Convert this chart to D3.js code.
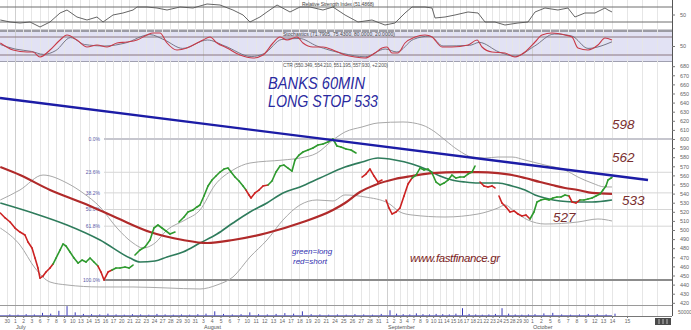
<!DOCTYPE html>
<html>
<head>
<meta charset="utf-8">
<script src="https://cdnjs.cloudflare.com/ajax/libs/d3/7.8.5/d3.min.js"></script>
<style>
body { margin: 0; background: #fff; }
svg { display: block; font-family: "Liberation Sans", Arial, sans-serif; }
.axis text { fill: #666; }
.axis path, .axis line { stroke: #777; }
</style>
</head>
<body>
<svg id="chart" width="691" height="330"></svg>
<script>
// trading days shown on the time axis
var juneDays = [30];
var julyDays = [1,2,3,6,7,8,9,10,13,14,15,16,17,20,21,22,23,24,27,28,29,30,31];
var augDays = [3,4,5,6,7,10,11,12,13,14,17,18,19,20,21,24,25,26,27,28,31];
var sepDays = [1,2,3,4,7,8,9,10,11,14,15,16,17,18,21,22,23,24,25,28,29,30];
var octDays = [1,2,5,6,7,8,9,12,13,14];
var futureDays = [15];
var monthNames = ["July", "August", "September", "October"];
var monthStart = [0, 23, 44, 66];

// price, 60 min bars: [day index, price, side]  (g = long, r = short), null = gap
var price = [
  [-1.8,518.7,'r'],[-1.2,513.2,'r'],[-0.6,508.8,'r'],[0,502.2,'r'],[0.61,497.8,'r'],[1.22,494.5,'r'],[1.59,486.8,'r'],
  [2.08,480.2,'r'],[2.45,469.2,'r'],[2.81,458.2,'r'],[3.06,447.2,'r'],[3.43,449.4,'r'],[3.79,453.8,'r'],[4.28,458.2,'r'],[4.65,462.6,'r'],
  [5.02,469.2,'g'],[5.51,478.0,'g'],[5.87,484.6,'g'],[6.24,482.4,'g'],[6.73,475.8,'g'],[7.22,469.2,'g'],[7.71,463.7,'g'],
  [8.20,467.0,'g'],[8.69,464.8,'g'],[9.18,469.2,'g'],[9.66,464.8,'g'],[10.15,460.4,'g'],
  [10.52,453.8,'r'],[10.89,445.1,'r'],[11.38,453.8,'r'],[11.87,456.0,'r'],
  [12.36,458.2,'g'],[12.85,458.2,'g'],[13.46,459.3,'g'],[13.95,458.2,'g'],[14.44,461.5,'g'],
  null,
  [14.68,472.5,'g'],[15.29,478.0,'g'],[15.90,481.3,'g'],[16.52,489.0,'g'],[17.00,502.2,'g'],[17.49,505.5,'g'],[17.98,502.2,'g'],
  [18.47,498.9,'g'],[18.96,495.6,'g'],[19.57,497.8,'g'],
  null,
  [20.06,508.8,'g'],[20.68,514.3,'g'],[21.16,519.8,'g'],[21.78,522.0,'g'],[22.27,525.3,'g'],[22.63,527.5,'g'],[23.11,537.4,'g'],
  [23.57,548.4,'g'],[24.03,554.9,'g'],[24.48,559.3,'g'],[24.94,563.7,'g'],[25.40,567.0,'g'],[25.85,568.1,'g'],[26.20,563.7,'g'],
  [26.65,558.2,'g'],[27.11,553.8,'g'],[27.57,548.4,'g'],[27.91,543.9,'g'],
  [28.25,538.5,'r'],[28.48,535.2,'r'],[28.93,540.7,'r'],[29.39,543.9,'r'],[29.85,548.4,'r'],[30.42,549.5,'r'],
  [30.87,553.8,'g'],[31.33,563.7,'g'],[31.79,570.3,'g'],[32.24,571.4,'g'],[32.70,568.1,'g'],[33.16,564.8,'g'],[33.50,576.9,'g'],
  [33.96,582.4,'g'],[34.41,585.7,'g'],[34.98,587.9,'g'],[35.55,590.1,'g'],[36.12,593.4,'g'],[36.69,594.5,'g'],[37.26,596.7,'g'],
  [37.83,600.0,'g'],[38.29,592.3,'g'],[38.75,591.2,'g'],[39.32,589.0,'g'],[39.89,587.9,'g'],[40.46,584.6,'g'],
  null,
  [41.15,558.2,'r'],[41.60,561.5,'r'],[42.06,567.0,'r'],[42.52,559.3,'r'],[42.97,552.7,'r'],[43.43,554.9,'r'],
  null,
  [43.89,533.0,'r'],[44.30,524.2,'r'],[44.76,517.6,'r'],[45.37,519.8,'r'],[45.97,524.2,'r'],[46.58,537.4,'r'],[47.19,550.5,'r'],[47.80,557.1,'r'],
  [48.40,560.4,'g'],[49.01,568.1,'g'],[49.62,565.9,'g'],[50.22,567.0,'g'],[50.83,562.6,'g'],[51.44,552.7,'g'],[52.04,549.5,'g'],
  [52.65,551.6,'g'],[53.26,554.9,'g'],[53.86,560.4,'g'],[54.47,557.1,'g'],[55.08,558.2,'g'],[55.68,558.2,'g'],[56.29,561.5,'g'],
  [56.90,563.7,'g'],[57.35,570.3,'g'],
  null,
  [58.11,552.7,'r'],[58.71,548.4,'r'],[59.32,547.3,'r'],[59.93,548.4,'r'],[60.38,546.2,'r'],
  null,
  [60.99,537.4,'r'],[61.44,529.7,'r'],[62.05,525.3,'r'],[62.66,519.8,'r'],[63.27,520.9,'r'],[63.87,517.6,'r'],[64.48,515.4,'r'],
  [65.09,516.5,'r'],[65.70,512.1,'r'],
  [66.22,519.8,'g'],[66.56,530.8,'g'],[67.01,533.0,'g'],[67.46,534.1,'g'],[67.91,533.0,'g'],[68.36,535.2,'g'],[68.81,536.3,'g'],
  [69.26,536.3,'g'],[69.71,538.5,'g'],[70.16,537.4,'g'],
  [70.50,530.8,'r'],[70.95,529.7,'r'],[71.40,533.0,'r'],
  [71.85,533.0,'g'],[72.30,534.1,'g'],[72.75,535.2,'g'],[73.20,537.4,'g'],[73.65,539.6,'g'],[73.99,544.0,'g'],[74.32,548.4,'g'],
  [74.55,555.0,'g'],[74.89,557.1,'g'],[75.0,557.9,'g']
];

// slow moving average (red)
var maSlow = [[-1.8,569.2],[0.61,560.4],[4.28,544.0],[8.32,529.7],[12.48,513.2],[16.52,497.8],[20.55,489.0],[23.46,485.7],
  [26.42,489.0],[30.30,496.7],[34.07,507.7],[37.83,522.0],[39.21,529.7],[40.92,541.8],[42.63,549.5],[45.21,556.0],[47.79,559.3],
  [50.83,562.6],[55.08,563.7],[57.81,563.7],[60.84,562.6],[62.97,560.4],[64.94,557.1],[66.90,552.7],[68.25,549.5],[69.71,546.2],
  [71.17,544.0],[72.75,540.7],[75.0,539.6]];

// faster moving average (green)
var maFast = [[-1.8,529.7],[2.20,518.7],[6.36,505.5],[10.40,489.0],[14.07,469.2],[15.29,464.8],[17.13,465.9],[18.60,470.3],
  [20.55,475.8],[22.63,485.7],[24.60,495.6],[26.42,507.7],[28.36,519.8],[30.30,529.7],[32.13,540.7],[34.07,547.3],[36.35,557.1],
  [39.21,569.2],[41.15,574.7],[42.97,579.1],[45.21,576.9],[47.80,572.5],[50.22,565.9],[52.04,559.3],[53.86,554.9],[55.84,552.7],
  [57.81,551.6],[60.84,551.6],[62.97,548.4],[64.94,544.0],[66.34,538.5],[67.46,535.2],[69.15,531.9],[71.17,530.8],[72.75,530.8],
  [75.0,533.0]];

// envelope bands (grey)
var bandUpper = [[-1.8,533.0],[0.61,544.0],[3.43,560.4],[6.36,551.6],[8.32,540.7],[10.40,525.3],[12.48,502.2],[14.44,485.7],
  [15.66,480.2],[17.13,485.7],[18.60,500.0],[20.80,511.0],[22.63,522.0],[24.37,549.5],[26.42,565.9],[28.36,573.6],[32.13,576.9],
  [34.07,579.1],[36.01,584.6],[37.83,598.9],[39.21,607.7],[41.15,613.2],[42.97,617.6],[46.43,618.7],[49.31,615.4],[51.29,607.7],
  [52.80,598.9],[54.77,587.9],[56.90,580.2],[58.87,579.1],[60.84,580.2],[62.97,580.2],[64.94,576.9],[67.46,571.4],[69.71,565.9],
  [71.17,558.2],[72.75,551.6],[74.21,547.3],[75.0,547.3]];
var bandLower = [[-1.8,502.2],[0.61,483.5],[2.45,458.2],[4.28,442.9],[6.36,439.6],[10.40,437.4],[14.44,437.4],[18.60,436.3],
  [22.63,435.2],[24.60,439.6],[26.42,448.4],[28.36,470.3],[30.30,489.0],[32.13,511.0],[34.07,527.5],[36.01,533.0],[37.83,531.9],
  [39.21,538.5],[41.49,536.3],[44.15,529.7],[45.97,519.8],[47.80,516.5],[52.80,514.3],[57.81,517.6],[60.84,524.2],[61.90,527.5],
  [63.42,519.8],[65.39,511.0],[67.46,506.6],[71.17,508.8],[73.42,512.1],[75.0,509.9]];

// hand-drawn trend line and fibonacci retracement
var trendLine = [[-1.835,645.1],[77.4,555.0]];
var fibLevels = [0, 23.6, 38.2, 50.0, 61.8, 100];
var fibHigh = 600, fibLow = 445, fibStart = 10.89;

// relative strength index
var rsi = [[-1.8,35.3],[-0.6,30.0],[0.61,27.3],[1.84,30.0],[3.06,16.7],[4.28,30.0],[5.51,54.0],[6.36,62.0],[7.58,43.3],
  [8.81,35.3],[10.03,43.3],[10.77,30.0],[11.99,48.7],[13.21,54.0],[14.44,62.0],[14.93,70.0],[16.15,70.0],[17.37,67.3],
  [18.60,62.0],[20.19,70.0],[21.78,67.3],[23.46,78.0],[24.94,75.3],[26.42,62.0],[27.57,48.7],[28.36,30.0],[29.50,43.3],
  [30.30,56.7],[31.45,75.3],[32.93,56.7],[34.07,70.0],[35.21,70.0],[36.69,62.0],[37.83,70.0],[39.21,48.7],[40.69,30.0],
  [42.29,35.3],[43.77,22.0],[45.21,27.3],[46.73,54.0],[47.80,70.0],[49.77,70.0],[50.83,67.3],[51.29,40.7],[52.80,43.3],
  [54.32,48.7],[56.29,56.7],[57.81,54.0],[58.87,30.0],[60.38,30.0],[61.90,22.0],[63.87,27.3],[65.39,30.0],[66.34,56.7],
  [67.46,67.3],[68.92,62.0],[70.04,67.3],[70.83,43.3],[71.95,54.0],[73.08,54.0],[74.21,67.3],[74.55,62.0],[75.0,56.7]];

// stochastic %K and %D
var stochK = [[-1.8,60.0],[-0.24,36.7],[1.47,30.0],[2.20,30.0],[3.06,13.3],[4.28,36.7],[5.51,70.0],[6.36,86.7],[7.58,70.0],
  [8.81,46.7],[10.03,53.3],[11.26,46.7],[12.48,60.0],[13.70,63.3],[14.93,70.0],[16.15,86.7],[16.88,93.3],[17.74,93.3],
  [18.60,60.0],[19.82,36.7],[21.04,43.3],[22.27,60.0],[23.0,70.0],[23.80,80.0],[24.60,60.0],[25.74,43.3],[27.22,20.0],
  [28.71,10.0],[29.85,20.0],[30.99,60.0],[31.79,80.0],[32.59,70.0],[33.73,80.0],[34.41,60.0],[35.55,46.7],[36.69,46.7],
  [37.83,36.7],[39.21,20.0],[40.35,13.3],[41.49,10.0],[42.63,26.7],[43.43,43.3],[44.0,46.7],[44.76,26.7],[45.67,26.7],
  [46.73,60.0],[48.25,80.0],[49.77,86.7],[50.83,80.0],[52.35,46.7],[53.86,46.7],[56.29,53.3],[57.66,70.0],[58.42,46.7],
  [59.93,30.0],[61.90,26.7],[63.42,13.3],[64.94,30.0],[66.34,63.3],[67.12,86.7],[68.25,93.3],[69.71,86.7],[70.50,80.0],
  [71.17,43.3],[72.30,36.7],[73.42,53.3],[74.21,76.7],[75.0,70.0]];
var stochD = [[-1.8,55],[0,40],[2,32],[3.5,22],[5,35],[6.8,78],[8.5,55],[11,50],[13.5,60],[16.5,88],[18.3,70],[20.5,42],
  [23.5,70],[25.5,50],[28.5,15],[30,25],[32,72],[34,75],[36,50],[39,25],[41.5,14],[43.8,40],[45.5,30],[48,72],[50.5,83],
  [52.5,50],[56.5,52],[58,62],[61,30],[63.5,16],[66.3,50],[68.5,90],[70.5,83],[72.3,42],[75,64]];

// daily volume, from day index -1
var volume = [6000,5000,7000,6000,12000,9000,20000,38000,14000,8000,7000,6000,9000,6000,5000,7000,6000,5000,8000,6000,
  5000,6000,5000,7000,9000,18000,8000,6000,7000,14000,7000,6000,8000,11000,9000,18000,7000,6000,5000,6000,5000,7000,
  6000,5000,8000,22000,9000,7000,6000,10000,7000,6000,8000,7000,6000,9000,30000,8000,6000,5000,6000,8000,30000,9000,
  6000,5000,6000,7000,10000,12000,6000,5000,6000,8000,7000,6000,9000];

var priceTicks = d3.range(420, 681, 10);

var svg = d3.select("#chart");
var axisX = 672;

var x = d3.scaleLinear().domain([-1.835, 23, 44, 66, 75, 79]).range([0, 203, 387, 532, 612, 672]);
var y = d3.scaleLinear().domain([417.6, 684.6]).range([305, 62]);
var yRsi = d3.scaleLinear().domain([30, 70]).range([22, 7]);
var yStoch = d3.scaleLinear().domain([20, 80]).range([55, 37]);
var yVol = d3.scaleLinear().domain([0, 50000]).range([316, 303]);

// panel backgrounds
svg.append("rect").attr("x", 0).attr("y", 32).attr("width", axisX).attr("height", 29).attr("fill", "#e2e2f4");
svg.append("rect").attr("x", 0).attr("y", 29.5).attr("width", axisX).attr("height", 2.5).attr("fill", "#9c9ca4");
svg.append("line").attr("x1", 0).attr("x2", axisX).attr("y1", 61.5).attr("y2", 61.5).attr("stroke", "#a0a0b0");

// day grid
var dayTicks = [];
var idx = -1;
[juneDays, julyDays, augDays, sepDays, octDays, futureDays].forEach(function(arr) {
  arr.forEach(function(d) { dayTicks.push({i: idx, label: d}); idx++; });
});
svg.append("g").selectAll("line").data(d3.range(-1, 80)).enter().append("line")
  .attr("x1", function(d) { return Math.round(x(d)) + 0.5; })
  .attr("x2", function(d) { return Math.round(x(d)) + 0.5; })
  .attr("y1", 0).attr("y2", 316)
  .attr("stroke", function(d) { return monthStart.indexOf(d) >= 0 ? "#cfcfcf" : "#e6e6e6"; })
  .attr("stroke-width", 1);

// indicator level lines
[70, 30].forEach(function(v) {
  svg.append("line").attr("x1", 0).attr("x2", axisX).attr("y1", yRsi(v)).attr("y2", yRsi(v)).attr("stroke", "#6e6e6e");
});
[80, 20].forEach(function(v) {
  svg.append("line").attr("x1", 0).attr("x2", axisX).attr("y1", yStoch(v)).attr("y2", yStoch(v)).attr("stroke", "#8a7780").attr("stroke-width", 1.2);
});

var rsiLine = d3.line().x(function(d) { return x(d[0]); }).y(function(d) { return yRsi(d[1]); });
svg.append("path").attr("d", rsiLine(rsi)).attr("fill", "none").attr("stroke", "#555").attr("stroke-width", 0.9);

var stLine = d3.line().x(function(d) { return x(d[0]); }).y(function(d) { return yStoch(d[1]); }).curve(d3.curveMonotoneX);
svg.append("path").attr("d", stLine(stochD)).attr("fill", "none").attr("stroke", "#6a6a7a").attr("stroke-width", 0.9);
svg.append("path").attr("d", stLine(stochK)).attr("fill", "none").attr("stroke", "#c83a48").attr("stroke-width", 1.1);

svg.append("text").attr("x", 302).attr("y", 6).attr("font-size", 5).attr("fill", "#444")
  .attr("textLength", 72).text("Relative Strength Index (51.4868)");
svg.append("text").attr("x", 283).attr("y", 36).attr("font-size", 5).attr("fill", "#444")
  .attr("textLength", 112).text("Stochastics (71.7905, 75.4300, 80.0000, 20.0000)");
svg.append("text").attr("x", 283).attr("y", 67).attr("font-size", 5).attr("fill", "#555")
  .attr("textLength", 105).text("CTR (550.349, 554.210, 551.195, 557.930, +2.200)");

// fibonacci levels
var fib = svg.append("g");
fibLevels.forEach(function(p) {
  var v = fibHigh - (fibHigh - fibLow) * p / 100;
  var main = p === 0 || p === 100;
  fib.append("line")
    .attr("x1", x(fibStart)).attr("x2", axisX)
    .attr("y1", y(v)).attr("y2", y(v))
    .attr("stroke", p === 100 ? "#8c8c8c" : (p === 0 ? "#c6c6ce" : "#d6d6d6"))
    .attr("stroke-width", main ? 2 : 1);
  fib.append("text").attr("x", x(fibStart) - 4).attr("y", y(v) + 1.8)
    .attr("text-anchor", "end").attr("font-size", 5).attr("fill", "#5a5aa8")
    .text(p.toFixed(1) + "%");
});
svg.append("line").attr("x1", 0).attr("x2", axisX).attr("y1", 305.5).attr("y2", 305.5).attr("stroke", "#9a9a9a");

// bands and averages
var line = d3.line().x(function(d) { return x(d[0]); }).y(function(d) { return y(d[1]); }).curve(d3.curveMonotoneX);
svg.append("path").attr("d", line(bandUpper)).attr("fill", "none").attr("stroke", "#a8a8a8").attr("stroke-width", 1);
svg.append("path").attr("d", line(bandLower)).attr("fill", "none").attr("stroke", "#a8a8a8").attr("stroke-width", 1);
svg.append("path").attr("d", line(maFast)).attr("fill", "none").attr("stroke", "#2f7c5c").attr("stroke-width", 1.6);
svg.append("path").attr("d", line(maSlow)).attr("fill", "none").attr("stroke", "#b02a2a").attr("stroke-width", 2.2);

// price segments, coloured by side
var pairs = [];
for (var k = 1; k < price.length; k++) {
  if (price[k - 1] && price[k]) pairs.push([price[k - 1], price[k]]);
}
svg.append("g").selectAll("line").data(pairs).enter().append("line")
  .attr("x1", function(d) { return x(d[0][0]); })
  .attr("y1", function(d) { return y(d[0][1]); })
  .attr("x2", function(d) { return x(d[1][0]); })
  .attr("y2", function(d) { return y(d[1][1]); })
  .attr("stroke", function(d) { return d[1][2] === 'g' ? "#2e9a2e" : "#cc2222"; })
  .attr("stroke-width", 1.6)
  .attr("stroke-linecap", "round");

// trend line
svg.append("path").attr("d", d3.line().x(function(d) { return x(d[0]); }).y(function(d) { return y(d[1]); })(trendLine))
  .attr("fill", "none").attr("stroke", "#1c1ca6").attr("stroke-width", 2.4);

// volume
svg.append("g").selectAll("line").data(volume).enter().append("line")
  .attr("x1", function(d, i) { return x(i - 1) + 3; })
  .attr("x2", function(d, i) { return x(i - 1) + 3; })
  .attr("y1", yVol(0)).attr("y2", function(d) { return yVol(d); })
  .attr("stroke", "#3a3ab8").attr("stroke-width", 1);
svg.append("line").attr("x1", 0).attr("x2", x(75)).attr("y1", 315.5).attr("y2", 315.5).attr("stroke", "#6a6ac0").attr("stroke-width", 0.8);

// annotations
var hand = '"Liberation Sans", Arial, sans-serif';
svg.append("text").attr("x", 268).attr("y", 89).attr("font-family", hand).attr("font-style", "italic")
  .attr("font-size", 16).attr("fill", "#2a2aa0").attr("textLength", 97).attr("lengthAdjust", "spacingAndGlyphs").text("BANKS 60MIN");
svg.append("text").attr("x", 268).attr("y", 107).attr("font-family", hand).attr("font-style", "italic")
  .attr("font-size", 16).attr("fill", "#2a2aa0").attr("textLength", 110).attr("lengthAdjust", "spacingAndGlyphs").text("LONG STOP 533");
[["598", 612, 129], ["562", 612, 162], ["533", 622, 205], ["527", 553, 222]].forEach(function(a) {
  svg.append("text").attr("x", a[1]).attr("y", a[2]).attr("font-family", hand).attr("font-style", "italic")
    .attr("font-size", 13.5).attr("fill", "#7a2e2e").text(a[0]);
});
svg.append("text").attr("x", 292).attr("y", 254).attr("font-family", hand).attr("font-style", "italic")
  .attr("font-size", 8).attr("fill", "#3030b0").text("green=long");
svg.append("text").attr("x", 293).attr("y", 264).attr("font-family", hand).attr("font-style", "italic")
  .attr("font-size", 8).attr("fill", "#3030b0").text("red=short");
svg.append("text").attr("x", 410).attr("y", 262).attr("font-family", hand).attr("font-style", "italic")
  .attr("font-size", 11.5).attr("fill", "#7a2222").attr("textLength", 90).text("www.fastfinance.gr");

// right axis
svg.append("line").attr("x1", axisX + 0.5).attr("x2", axisX + 0.5).attr("y1", 0).attr("y2", 316).attr("stroke", "#555");
var ra = svg.append("g").attr("class", "axis").attr("transform", "translate(" + axisX + ",0)")
  .call(d3.axisRight(y).tickValues(priceTicks).tickSize(3).tickPadding(5));
ra.select(".domain").remove();
ra.selectAll("text").attr("font-size", 5.5);
var ra2 = svg.append("g").attr("class", "axis").attr("transform", "translate(" + axisX + ",0)")
  .call(d3.axisRight(yRsi).tickValues([50]).tickSize(3).tickPadding(5));
ra2.select(".domain").remove();
ra2.selectAll("text").attr("font-size", 5.5);
var ra3 = svg.append("g").attr("class", "axis").attr("transform", "translate(" + axisX + ",0)")
  .call(d3.axisRight(yStoch).tickValues([50]).tickSize(3).tickPadding(5));
ra3.select(".domain").remove();
ra3.selectAll("text").attr("font-size", 5.5);
svg.append("text").attr("x", 678).attr("y", 314).attr("font-size", 5).attr("fill", "#666").text("50000");

// bottom axis
var ba = svg.append("g").attr("class", "axis").attr("transform", "translate(0,316)")
  .call(d3.axisBottom(x).tickValues(dayTicks.map(function(d) { return d.i; }))
    .tickFormat(function(v) { return dayTicks.filter(function(d) { return d.i === v; })[0].label; })
    .tickSize(2).tickPadding(1));
ba.select(".domain").attr("d", "M0,0.5H" + axisX).attr("stroke", "#888");
ba.selectAll("text").attr("font-size", 5);
svg.append("g").selectAll("text").data(monthNames).enter().append("text")
  .attr("x", function(d, i) { return x(monthStart[i]) + 1; })
  .attr("y", 329).attr("font-size", 5.5).attr("fill", "#555").text(function(d) { return d; });

// scroll buttons in the corner
svg.append("rect").attr("x", 655).attr("y", 318).attr("width", 16).attr("height", 7).attr("fill", "#4a4a4a");
[659, 663, 667].forEach(function(px) {
  svg.append("line").attr("x1", px).attr("x2", px).attr("y1", 319).attr("y2", 324).attr("stroke", "#bbb");
});
</script>
</body>
</html>
